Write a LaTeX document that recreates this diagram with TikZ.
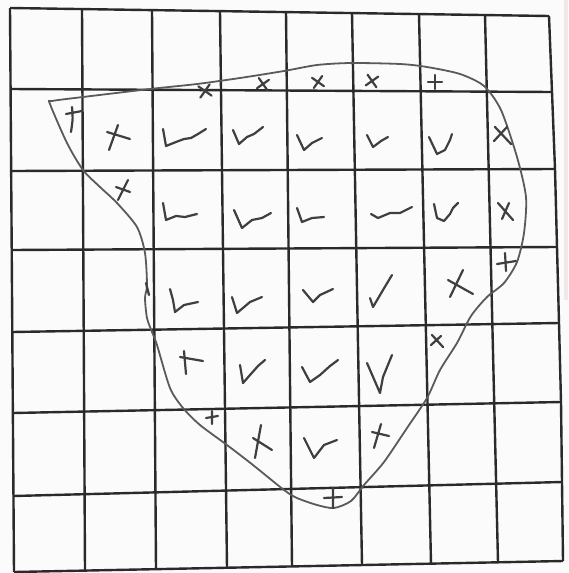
\documentclass[tikz,border=0pt]{standalone}
\usetikzlibrary{calc}
\definecolor{ink}{HTML}{2A2A2A}
\definecolor{pencil}{HTML}{5A5A5A}
\definecolor{paper}{HTML}{FBFBFB}
\definecolor{edge}{HTML}{F1E9E9}
\tikzset{
  gridline/.style={line width=2.4pt, draw=ink},
  outline/.style={line width=1.8pt, draw=pencil, line join=round},
  pen/.style={line width=2.2pt, draw=ink!90, line cap=round, line join=round},
  xm/.pic={\draw[pen] (-6,-6)--(6,6) (-6,6)--(6,-6);},
  pm/.pic={\draw[pen] (-7,0)--(7,0) (0,-7)--(0,7);}
}
\begin{document}
\begin{tikzpicture}[x=1pt,y=-1pt]
\useasboundingbox (0,0) rectangle (568,573);
\fill[paper] (0,0) rectangle (568,573);
\fill[edge] (564,0) rectangle (568,300);
% ---- grid: vertical lines (top x/y, bottom x/y)
\foreach \xt/\yt/\xb/\yb [count=\i] in {10/8/14/572, 82/9.1/85/570.6, 152/10.1/156/569.2, 220/11.1/227/567.7, 286/12.1/292/566.4, 352/13.1/362/565, 419/14.1/431/563.6, 485/15/498/562.3}{
  \coordinate (vt\i) at (\xt,\yt);
  \coordinate (vb\i) at (\xb,\yb);
  \draw[gridline] (vt\i) -- (vb\i);
}
% right border
\draw[gridline] (549,16) -- (552,92) -- (555,169) -- (557,247) -- (559,323) -- (561,402) -- (562,482) -- (563,561);
% ---- horizontal lines (left x/y, right x/y)
\foreach \xl/\yl/\xr/\yr [count=\j] in {10/8/549/16, 10.6/89/552/92, 11.2/171/555/169, 11.7/250/557/247, 12.3/332/559/323, 12.9/413/561/402, 13.5/496/562/482, 14/572/563/561}{
  \coordinate (hl\j) at (\xl,\yl);
  \coordinate (hr\j) at (\xr,\yr);
  \draw[gridline] (hl\j) -- (hr\j);
}
% ---- outline of the shape
\draw[outline] plot[smooth cycle, tension=0.45] coordinates {
 (52,101) (83,97) (150,89) (197,84) (240,78) (284,71) (317,65) (351,63) (400,64) (427,67) (460,74) (484,86) (501,110) (517,157) (526,197) (524,233) (517,262) (504,283) (487,297) (471,316) (457,343) (440,370) (427,398) (407,428) (384,462) (364,485) (351,501) (334,508) (317,505) (297,498) (284,490) (253,465) (227,445) (200,425) (183,408) (170,388) (157,345) (152,332) (147,318) (145,298) (147,285) (145,253) (137,227) (117,203) (100,187) (83,170) (67,143) (50,104)};
% ---- marks along the top edge
\pic[rotate=10,scale=0.95] at (205,91) {xm};
\pic[rotate=-10,scale=0.85] at (263,84) {xm};
\pic[rotate=10,scale=0.85] at (318,82) {xm};
\pic[rotate=-10,scale=0.9] at (372,81) {xm};
\pic[scale=1] at (435,82) {pm};
% ---- row 2
\draw[pen] (72,107) .. controls (73,118) .. (71,132) (66,114) -- (82,111);
\draw[pen] (118,125) -- (109,150) (107,132) -- (130,139);
\draw[pen] (163,129) -- (166,146) -- (176,142) -- (184,139) -- (191,138) -- (198,134) -- (206,129);
\draw[pen] (233,130) -- (239,144) -- (247,137) -- (254,134) -- (263,127);
\draw[pen] (297,135) -- (304,150) -- (312,143) -- (322,138);
\draw[pen] (367,135) -- (373,147) -- (381,141) -- (388,137);
\draw[pen] (429,137) -- (437,154) -- (445,150) -- (450,140) -- (452,134);
\draw[pen] (495,127) -- (511,144) (494,141) -- (507,127);
% ---- row 3
\draw[pen] (128,180) -- (118,200) (116,187) -- (130,192);
\draw[pen] (163,203) -- (166,220) -- (176,216) -- (185,217) -- (197,214);
\draw[pen] (234,210) -- (242,228) -- (252,220) -- (262,218) -- (271,213);
\draw[pen] (297,208) -- (302,222) -- (312,218) -- (324,217);
\draw[pen] (371,214) -- (378,218) -- (390,213) -- (400,213) -- (412,207);
\draw[pen] (434,204) -- (437,218) -- (444,221) -- (450,214) -- (453,208) -- (458,203);
\draw[pen] (498,203) -- (513,220) (502,219) -- (509,203);
% ---- row 4
\draw[pen] (497,264) -- (516,261) (505,253) -- (506,271);
\draw[pen] (146,283) -- (149,295);
\draw[pen] (170,289) -- (173,300) -- (175,312) -- (184,305) -- (198,302);
\draw[pen] (232,297) -- (237,313) -- (250,302) -- (262,297);
\draw[pen] (303,290) -- (313,302) -- (320,295) -- (333,289);
\draw[pen] (370,298) -- (373,307) -- (383,290) -- (392,275);
\draw[pen] (450,297) -- (463,270) (448,280) -- (473,294);
% ---- row 5
\draw[pen] (184,351) -- (186,374) (180,357) -- (203,361);
\draw[pen] (240,365) -- (243,383) -- (250,375) -- (258,366) -- (265,360);
\draw[pen] (302,367) -- (310,382) -- (320,375) -- (330,366) -- (338,360);
\draw[pen] (367,363) -- (380,393) -- (383,377) -- (392,355);
\draw[pen] (432,335) -- (443,347) (431,345) -- (441,336);
% ---- row 6
\draw[pen] (206,418) -- (218,416) (212,411) -- (212,424);
\draw[pen] (261,425) -- (255,458) (253,438) -- (272,450);
\draw[pen] (304,438) -- (314,458) -- (324,445) -- (337,440);
\draw[pen] (381,424) -- (374,448) (372,432) -- (389,436);
% ---- row 7
\draw[pen] (324,498) -- (342,497) (333,488) -- (333,508);
\end{tikzpicture}
\end{document}
